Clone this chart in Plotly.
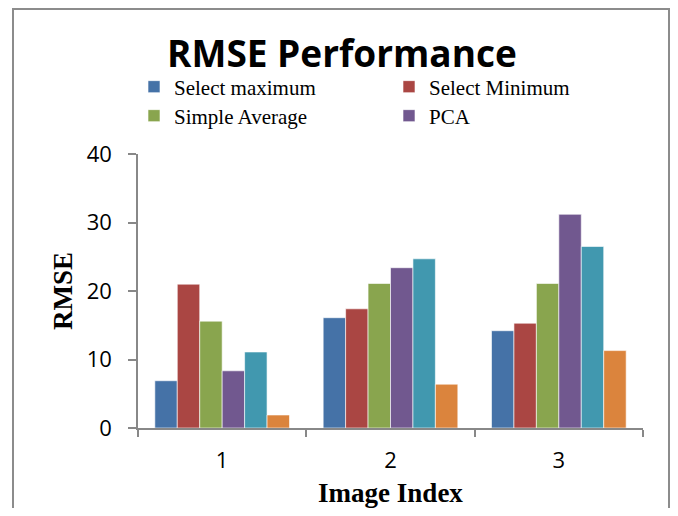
import plotly.graph_objects as go

categories = ["1", "2", "3"]
series_names = ["Select maximum", "Select Minimum", "Simple Average", "PCA", "DWT", "Proposed"]
select_maximum = [6.9, 16.1, 14.2]
select_minimum = [21.0, 17.4, 15.3]
simple_average = [15.6, 21.1, 21.1]
pca = [8.35, 23.4, 31.2]
dwt = [11.1, 24.7, 26.5]
proposed = [1.9, 6.4, 11.3]
y_ticks = [0, 10, 20, 30, 40]

values = [select_maximum, select_minimum, simple_average, pca, dwt, proposed]
colors = ["#4572A7", "#AA4643", "#89A54E", "#71588F", "#4198AF", "#DB843D"]
legend_ref = ["legend", "legend", "legend2", "legend2", None, None]

fig = go.Figure()
for name, vals, col, lg in zip(series_names, values, colors, legend_ref):
    kw = dict(showlegend=False) if lg is None else dict(legend=lg)
    fig.add_trace(go.Bar(
        x=categories, y=vals, name=name,
        marker=dict(color=col, line=dict(color="rgba(255,255,255,0.6)", width=1)),
        **kw,
    ))

OFF = 8  # page body margin
W, H = 678 - 2 * OFF, 516 - 2 * OFF
L, T = 138 - OFF, 154 - OFF
R = W - (643 - OFF)
B = H - (428 - OFF)
pw = W - L - R
ph = H - T - B

def px_x(p):
    return (p - OFF - L) / pw

def px_y(p):
    return (H - B - (p - OFF)) / ph

leg_font = dict(family="Liberation Serif, Times New Roman, serif", size=21, color="black")
leg_common = dict(orientation="h", xanchor="left", yanchor="middle",
                  entrywidth=210, entrywidthmode="pixels", font=leg_font,
                  bgcolor="rgba(0,0,0,0)", traceorder="normal", itemclick=False)

sans = "Open Sans, Lato, sans-serif"
serif = "Liberation Serif, Times New Roman, serif"

fig.update_layout(
    width=W, height=H,
    margin=dict(l=L, r=R, t=T, b=B, autoexpand=False),
    paper_bgcolor="white", plot_bgcolor="white",
    barmode="group", bargap=0.2, bargroupgap=0,
    title=dict(text="<b>RMSE Performance</b>", x=(342 - OFF) / W, xanchor="center",
               y=1 - (54 - OFF) / H, yanchor="middle", yref="container",
               font=dict(family=sans, size=37, color="black")),
    legend=dict(x=px_x(134), y=px_y(87), **leg_common),
    legend2=dict(x=px_x(134), y=px_y(116), **leg_common),
    xaxis=dict(type="category", showline=True, linecolor="#888", linewidth=1.5,
               ticks="outside", tickson="boundaries", ticklen=7, tickcolor="#888", tickwidth=1.5,
               tickfont=dict(family=sans, size=22, color="black"),
               ticklabelstandoff=12, automargin=False,
               title=dict(text="<b>Image Index</b>", standoff=18,
                          font=dict(family=serif, size=27, color="black")),
               showgrid=False, zeroline=False),
    yaxis=dict(range=[0, 40], tickvals=y_ticks, showline=True, linecolor="#888", linewidth=1.5,
               ticks="outside", ticklen=8, tickcolor="#888", tickwidth=1.5,
               tickfont=dict(family=sans, size=22, color="black"),
               ticklabelstandoff=12, automargin=False,
               title=dict(text="<b>RMSE</b>", standoff=6,
                          font=dict(family=serif, size=27, color="black")),
               showgrid=False, zeroline=False),
    shapes=[dict(type="rect", xref="paper", yref="paper",
                 x0=px_x(13), x1=px_x(669), y0=px_y(530), y1=px_y(9),
                 line=dict(color="#8c8c8c", width=2), fillcolor="rgba(0,0,0,0)", layer="below")],
)

fig.write_html("out.html")
